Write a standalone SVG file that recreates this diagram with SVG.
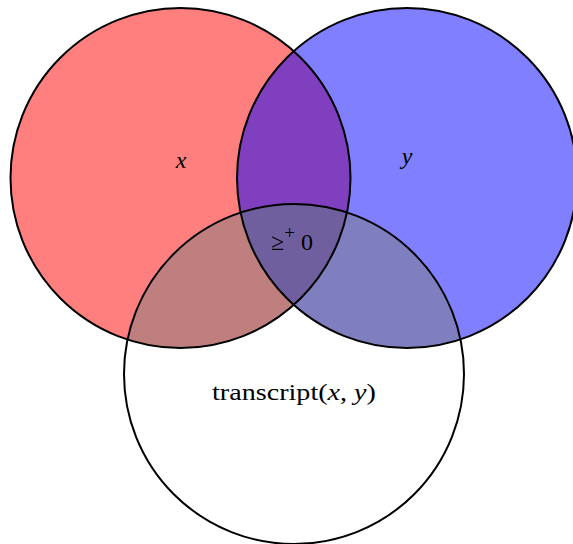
<svg xmlns="http://www.w3.org/2000/svg" width="573" height="544" viewBox="0 0 573 544">
  <style>
    .outline { fill: none; stroke: #000; stroke-width: 2; }
    .lbl { font-family: "Liberation Serif", "DejaVu Serif", serif; font-size: 24px; fill: #000; text-anchor: middle; }
    .it { font-style: italic; }
  </style>
  <defs>
    <clipPath id="clipC">
      <circle cx="294" cy="374" r="170"/>
    </clipPath>
  </defs>
  <rect width="573" height="544" fill="#fff"/>
  <!-- set x, then its overlap with the transcript set shaded grey -->
  <g id="setX">
    <circle cx="180.5" cy="178" r="170" fill="#ff0000" fill-opacity="0.5"/>
    <circle cx="180.5" cy="178" r="170" fill="#808080" fill-opacity="0.5" clip-path="url(#clipC)"/>
  </g>
  <!-- set y, then its overlap with the transcript set shaded grey -->
  <g id="setY">
    <circle cx="407" cy="178" r="170" fill="#0000ff" fill-opacity="0.5"/>
    <circle cx="407" cy="178" r="170" fill="#808080" fill-opacity="0.5" clip-path="url(#clipC)"/>
  </g>
  <!-- outlines of the three sets -->
  <g id="outlines">
    <circle class="outline" cx="180.5" cy="178" r="170"/>
    <circle class="outline" cx="407" cy="178" r="170"/>
    <circle id="setT" class="outline" cx="294" cy="374" r="170"/>
  </g>
  <g id="labels">
    <text class="lbl it" x="181" y="168" font-size="26">x</text>
    <text class="lbl it" x="407" y="164" font-size="26">y</text>
    <text class="lbl" x="292" y="250" font-size="27">≥<tspan dy="-11" font-size="19">+</tspan><tspan dy="11"> 0</tspan></text>
    <text class="lbl" x="294" y="400" font-size="25" textLength="164" lengthAdjust="spacingAndGlyphs">transcript(<tspan class="it">x</tspan>, <tspan class="it">y</tspan>)</text>
  </g>
</svg>
